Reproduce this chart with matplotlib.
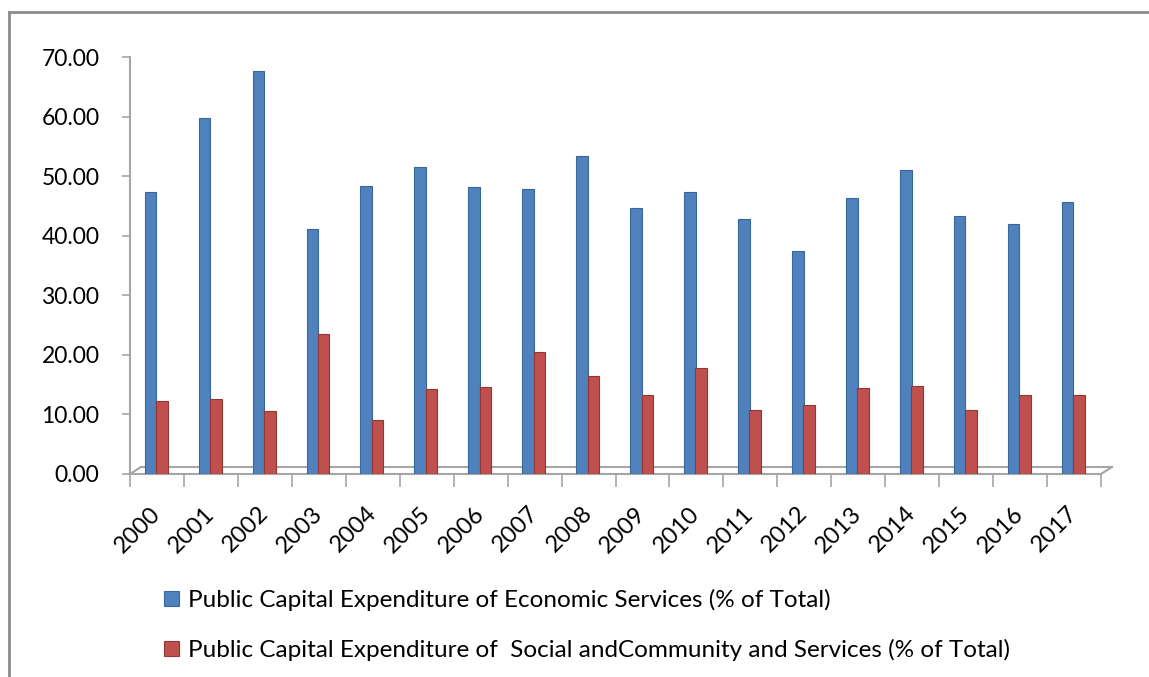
import matplotlib
matplotlib.use('Agg')
import matplotlib.pyplot as plt
import matplotlib.transforms as mtransforms
from matplotlib.lines import Line2D
import numpy as np

plt.rcParams['font.family'] = ['Lato', 'DejaVu Sans']

years = ['2000', '2001', '2002', '2003', '2004', '2005', '2006', '2007', '2008',
         '2009', '2010', '2011', '2012', '2013', '2014', '2015', '2016', '2017']
economic = [47.3, 59.8, 67.7, 41.1, 48.4, 51.6, 48.1, 47.9, 53.3,
            44.6, 47.4, 42.8, 37.5, 46.4, 51.1, 43.3, 41.9, 45.7]
social = [12.2, 12.6, 10.5, 23.5, 9.0, 14.2, 14.6, 20.4, 16.4,
          13.2, 17.8, 10.7, 11.6, 14.5, 14.7, 10.7, 13.2, 13.3]
yticks = [0, 10, 20, 30, 40, 50, 60, 70]
labels = ['Public Capital Expenditure of Economic Services (% of Total)',
          'Public Capital Expenditure of  Social andCommunity and Services (% of Total)']

BLUE = '#4F81BD'
RED = '#C0504D'
AXIS = '#A6A6A6'

W, H = 1149, 677
fig = plt.figure(figsize=(W / 100, H / 100), dpi=100)
ax = fig.add_axes([130 / W, 1 - 474 / H, (1101 - 130) / W, (474 - 57) / H])

x = np.arange(len(years))
bw = 0.215
b1 = ax.bar(x - 0.12, economic, bw, color=BLUE, edgecolor='#3A6699', linewidth=0.8,
            label=labels[0], zorder=3)
b2 = ax.bar(x + 0.09, social, bw, color=RED, edgecolor='#943634', linewidth=0.8,
            label=labels[1], zorder=3)

ax.set_xlim(-0.5, len(years) - 0.5)
ax.set_ylim(0, 70)
for s in ['top', 'right', 'bottom']:
    ax.spines[s].set_visible(False)
ax.spines['left'].set_color(AXIS)
ax.spines['left'].set_linewidth(1.5)

ax.set_yticks(yticks)
ax.set_yticklabels([f'{v:.2f}' for v in yticks], fontsize=16.5)
ax.tick_params(axis='y', length=6, width=1.2, color=AXIS, pad=16)

# category boundary ticks + year labels at centres
ax.set_xticks(np.arange(-0.5, len(years), 1.0))
ax.set_xticklabels([])
ax.tick_params(axis='x', which='major', length=9, width=1.2, color=AXIS)
ax.set_xticks(x, years, minor=True)
ax.tick_params(axis='x', which='minor', length=0, pad=26, labelsize=17)
for t in ax.get_xticklabels(minor=True):
    t.set_rotation(45)
    t.set_ha('right')
    t.set_va('center')
    t.set_rotation_mode('anchor')

# 3d-ish floor
back = mtransforms.offset_copy(ax.transData, fig=fig, x=11, y=7, units='dots')
x0, x1 = -0.5, len(years) - 0.5
kw = dict(color=AXIS, lw=1.5, clip_on=False, zorder=2)
ax.plot([x0, x1], [0, 0], **kw)
ax.plot([x0, x1], [0, 0], transform=back, **kw)
for xe in (x0, x1):
    tr = ax.transData.transform((xe, 0))
    p = fig.transFigure.inverted().transform([tr, tr + [11, 7]])
    fig.add_artist(Line2D(p[:, 0], p[:, 1], color=AXIS, lw=1.5))

# outer frame (top and left only)
fig.add_artist(Line2D([9 / W, 1], [1 - 12 / H, 1 - 12 / H], color='#8C8C8C', lw=2))
fig.add_artist(Line2D([9 / W, 9 / W], [0, 1 - 12 / H], color='#8C8C8C', lw=2))

fig.legend(handles=[b1, b2], loc='upper left', bbox_to_anchor=(164 / W, 1 - 589 / H),
           frameon=False, fontsize=17.5, handlelength=0.62, handleheight=0.62,
           handletextpad=0.35, labelspacing=1.15, borderpad=0, borderaxespad=0)

fig.savefig('out.png', dpi=100)
